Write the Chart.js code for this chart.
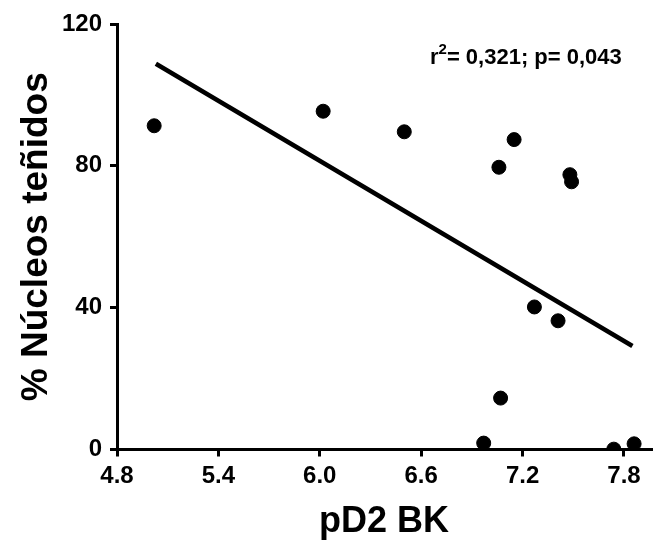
<!DOCTYPE html>
<html>
<head>
<meta charset="utf-8">
<script src="https://cdn.jsdelivr.net/npm/chart.js@4/dist/chart.umd.min.js"></script>
<style>
	body { margin: 0; background: #fff; }
	#wrap { width: 659px; height: 544px; position: relative; }
</style>
</head>
<body>
<div id="wrap"><canvas id="myChart"></canvas></div>
<script>
	// pD2 BK vs % nucleos tenidos
	var xVals = [5.02, 6.02, 6.50, 7.06, 7.15, 7.48, 7.49, 7.27, 7.41, 7.07, 6.97, 7.74, 7.86];
	var yVals = [91.3, 95.4, 89.6, 79.6, 87.4, 77.5, 75.5, 40.2, 36.3, 14.5, 1.8, 0.1, 1.6];
	// regression line ends
	var fitX = [5.03, 7.85];
	var fitY = [108.8, 29.2];
	var xTicks = [4.8, 5.4, 6.0, 6.6, 7.2, 7.8];
	var yTicks = [0, 40, 80, 120];
	var statText = ["r", "2", "= 0,321; p= 0,043"];

	var puntos = xVals.map(function(x, i){ return {x: x, y: yVals[i]}; });
	var recta = fitX.map(function(x, i){ return {x: x, y: fitY[i]}; });

	var fuente = "'Liberation Sans', Arial, sans-serif";

	var textoStats = {
		id: 'textoStats',
		afterDraw: function(chart){
			var c = chart.ctx;
			c.save();
			c.fillStyle = '#000';
			c.textBaseline = 'alphabetic';
			c.font = "bold 22px " + fuente;
			var x = 430, y = 64;
			c.fillText(statText[0], x, y);
			x += c.measureText(statText[0]).width;
			c.font = "bold 15px " + fuente;
			c.fillText(statText[1], x, y - 10);
			x += c.measureText(statText[1]).width;
			c.font = "bold 22px " + fuente;
			c.fillText(statText[2], x, y);
			c.restore();
		}
	};

	var ctx = document.getElementById('myChart');
	var myChart = new Chart(ctx, {
		type: 'scatter',
		data: {
			datasets: [{
				label: 'datos',
				data: puntos,
				backgroundColor: '#000',
				borderColor: '#000',
				pointRadius: 7,
				pointHoverRadius: 7
			},{
				type: 'line',
				label: 'regresion',
				data: recta,
				borderColor: '#000',
				borderWidth: 4.5,
				pointRadius: 0,
				fill: false
			}]
		},
		options: {
			responsive: true,
			maintainAspectRatio: false,
			animation: false,
			layout: { padding: { top: 24, right: 0, bottom: 0, left: 0 } },
			plugins: {
				legend: { display: false },
				tooltip: { enabled: false }
			},
			scales: {
				x: {
					type: 'linear',
					min: 4.8,
					max: 7.96,
					afterFit: function(s){ s.height = 94.5; },
					afterBuildTicks: function(s){ s.ticks = xTicks.map(function(v){ return {value: v}; }); },
					grid: { drawOnChartArea: false, color: '#000', lineWidth: 3, tickLength: 7 },
					border: { display: true, color: '#000', width: 3 },
					ticks: {
						color: '#000',
						maxRotation: 0,
						padding: 5,
						font: { family: fuente, size: 24, weight: 'bold' },
						callback: function(v){ return Number(v).toFixed(1); }
					},
					title: {
						display: true,
						text: 'pD2 BK',
						color: '#000',
						padding: { top: 5, bottom: 0 },
						font: { family: fuente, size: 36, weight: 'bold' }
					}
				},
				y: {
					min: 0,
					max: 120,
					afterFit: function(s){ s.width = 117; },
					afterBuildTicks: function(s){ s.ticks = yTicks.map(function(v){ return {value: v}; }); },
					grid: { drawOnChartArea: false, color: '#000', lineWidth: 3, tickLength: 7 },
					border: { display: true, color: '#000', width: 3 },
					ticks: {
						color: '#000',
						padding: 8,
						font: { family: fuente, size: 24, weight: 'bold' }
					},
					title: {
						display: true,
						text: '% Núcleos teñidos',
						color: '#000',
						padding: { top: 15, bottom: 0 },
						font: { family: fuente, size: 37, weight: 'bold' }
					}
				}
			}
		},
		plugins: [textoStats]
	});
</script>
</body>
</html>
